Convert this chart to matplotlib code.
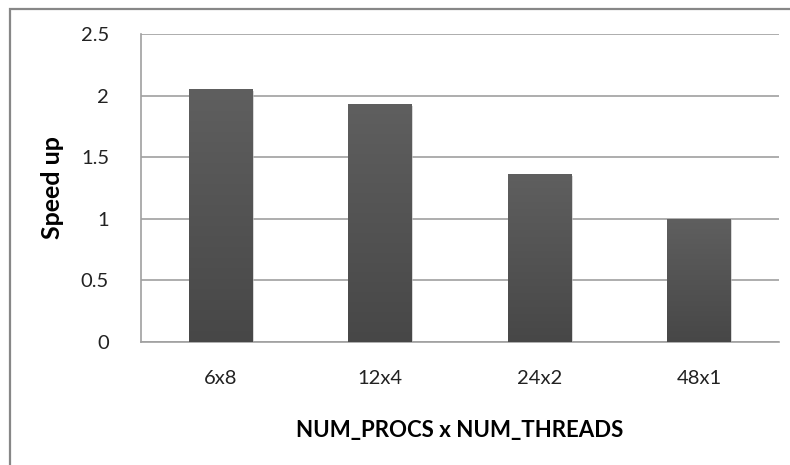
import numpy as np
import matplotlib.pyplot as plt
from matplotlib.colors import LinearSegmentedColormap
from matplotlib.patches import Rectangle

# Speed up per process/thread split
configs = ['6x8', '12x4', '24x2', '48x1']
speedup = [2.05, 1.93, 1.36, 1.0]

plt.rcParams['font.family'] = ['Lato', 'DejaVu Sans']

fig = plt.figure(figsize=(7.9, 4.65), dpi=100)
ax = fig.add_axes([141/790, 1-342/465, 638/790, 308/465])

x = np.arange(len(configs))
width = 0.40

# soft drop shadow behind each bar
for xi, v in zip(x, speedup):
    ax.add_patch(Rectangle((xi - width/2 + 0.008, -0.012), width, v, fc='#bdbdbd',
                           ec='none', alpha=0.6, zorder=2))

bars = ax.bar(x, speedup, width=width, color='#525252', zorder=3)

# vertical gradient fill, lighter at the top
grad = LinearSegmentedColormap.from_list('g', ['#474747', '#5f5f5f'])
img = np.linspace(0, 1, 256).reshape(-1, 1)
for b in bars:
    x0, y0 = b.get_x(), b.get_y()
    im = ax.imshow(img, cmap=grad, aspect='auto', origin='lower',
                   extent=[x0, x0 + b.get_width(), y0, y0 + b.get_height()], zorder=4)
    im.set_clip_path(b)

ax.set_xlim(-0.5, len(configs) - 0.5)
ax.set_ylim(0, 2.5)
ax.set_yticks([0, 0.5, 1, 1.5, 2, 2.5])
ax.set_yticklabels(['0', '0.5', '1', '1.5', '2', '2.5'])
ax.set_xticks(x)
ax.set_xticklabels(configs)
ax.tick_params(length=0, labelsize=14.5, colors='#222222')
ax.tick_params(axis='y', pad=23)
ax.tick_params(axis='x', pad=20)
ax.yaxis.grid(True, color='#a0a0a0', linewidth=1.2, zorder=0)
ax.set_axisbelow(True)
for s in ['top', 'right']:
    ax.spines[s].set_visible(False)
for s in ['left', 'bottom']:
    ax.spines[s].set_color('#a0a0a0')
    ax.spines[s].set_linewidth(1.2)

ax.set_ylabel('Speed up', fontsize=18, fontweight='bold', labelpad=12)
ax.set_xlabel('NUM_PROCS x NUM_THREADS', fontsize=16, fontweight='bold', labelpad=24)

# outer chart border
fig.add_artist(Rectangle((10/790, -0.05), 1.0, 1 - 9/465 + 0.05, transform=fig.transFigure,
                         fill=False, ec='#878787', lw=1.6))

fig.savefig('out.png', dpi=100)
